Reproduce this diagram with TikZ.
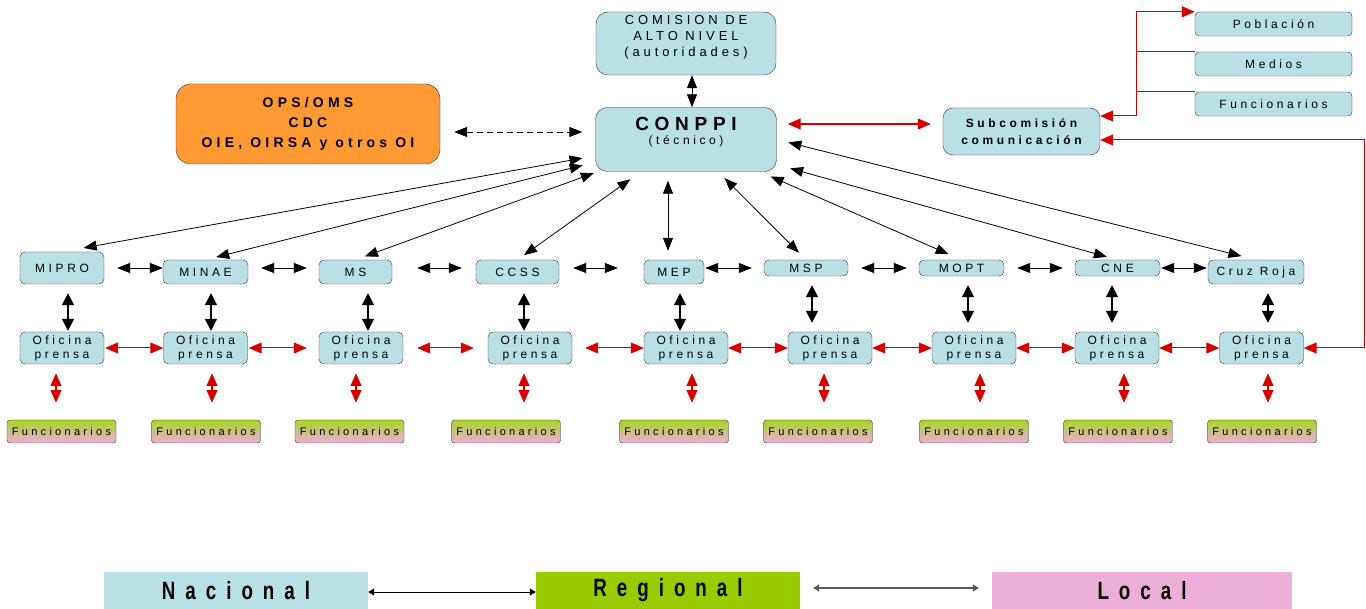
\documentclass[tikz,border=0pt]{standalone}
\usepackage{fontspec}
\setmainfont{Liberation Sans}[LetterSpace=30]
\usepackage{xcolor}
\usepackage{tikz}
\usetikzlibrary{arrows.meta,positioning}

\definecolor{celeste}{RGB}{185,224,229}
\definecolor{naranja}{RGB}{255,153,51}
\definecolor{verde}{RGB}{153,204,0}
\definecolor{rosa}{RGB}{238,174,218}
\definecolor{rojo}{RGB}{214,0,0}

\begin{document}
\begin{tikzpicture}[x=1pt,y=-1pt]
        \tikzset{box/.style={draw=black!80, fill=celeste, rounded corners=5pt, inner sep=0pt, align=center, font=\fontsize{12}{14}\selectfont}}
        \tikzset{orgbox/.style={draw=black!80, fill=naranja, rounded corners=15pt, inner sep=0pt, align=center, font=\bfseries\fontsize{14}{20}\selectfont}}
        \tikzset{funbox/.style={draw=black!80, top color=verde!85, bottom color=rosa, rounded corners=3pt, inner sep=0pt, minimum width=109pt, minimum height=23pt, font=\fontsize{11}{13}\selectfont}}
        \tikzset{legbox/.style={inner sep=0pt, minimum width=264pt, minimum height=37pt, font=\bfseries\fontsize{25}{27}\selectfont\addfontfeatures{FakeStretch=0.75,LetterSpace=40}}}
        \tikzset{blk/.style={<->, >={Triangle[length=13pt,width=10pt]}, line width=0.8pt}}
        \tikzset{blkv/.style={<->, >={Triangle[length=12pt,width=12pt]}, line width=1.6pt}}
        \tikzset{rojoarr/.style={<->, >={Triangle[length=13pt,width=11pt]}, color=rojo, line width=1pt}}
        \tikzset{rojoln/.style={color=rojo, line width=1pt}}
        \tikzset{leg/.style={<->, >={Triangle[length=6pt,width=7pt]}, line width=1pt}}

        \useasboundingbox (0,0) rectangle (1366,609);

        % top level
        \node [box, rounded corners=12pt, minimum width=180pt, minimum height=63pt, text depth=16pt, font=\fontsize{13}{16}\selectfont] (comision) at (686,43.5) {COMISION DE\\ALTO NIVEL\\(autoridades)};
        \node [box, rounded corners=12pt, minimum width=181pt, minimum height=64pt, text depth=17pt] (conppi) at (686,139.5) {{\bfseries\fontsize{19}{19}\selectfont CONPPI}\\[0pt](técnico)};
        \node [orgbox, minimum width=264pt, minimum height=80pt] (ops) at (308,124) {OPS/OMS\\CDC\\OIE, OIRSA y otros OI};
        \node [box, rounded corners=10pt, minimum width=157pt, minimum height=47pt, font=\bfseries\fontsize{12}{17}\selectfont] (sub) at (1021.5,131.5) {Subcomisión\\comunicación};
        \node [box, rounded corners=4pt, minimum width=157pt, minimum height=24pt, font=\fontsize{12}{13}\selectfont] (pob) at (1273.5,24) {Población};
        \node [box, rounded corners=4pt, minimum width=157pt, minimum height=24pt, font=\fontsize{12}{13}\selectfont] (med) at (1273.5,64) {Medios};
        \node [box, rounded corners=4pt, minimum width=157pt, minimum height=24pt, font=\fontsize{12}{13}\selectfont] (fun) at (1273.5,104) {Funcionarios};

        % institutions
        \foreach \name/\lbl/\xx/\yy/\w/\h in {mipro/MIPRO/62/268/84/32, minae/MINAE/205.5/272/85/24, ms/MS/355.5/272/73/24, ccss/CCSS/517.5/272/83/24, mep/MEP/674/272/60/24, msp/MSP/806/268/84/16, mopt/MOPT/961.5/268/85/16, cne/CNE/1117.5/268/85/16, cruz/Cruz Roja/1256/272/96/24}
            \node [box, minimum width=\w pt, minimum height=\h pt] (\name) at (\xx,\yy) {\lbl};
        \foreach \i/\xx in {1/62, 2/205.5, 3/361, 4/530, 5/686, 6/830, 7/974, 8/1117, 9/1261.5}
            \node [box, minimum width=84pt, minimum height=32pt] (of\i) at (\xx,348) {Oficina\\prensa};
        \foreach \i/\xx in {1/61.5, 2/206, 3/349.5, 4/506, 5/674, 6/818, 7/974, 8/1118, 9/1262}
            \node [funbox] (fu\i) at (\xx,431.5) {Funcionarios};

        % legend
        \node [legbox, fill=celeste] (nac) at (236,590.5) {Nacional};
        \node [legbox, fill=verde] (reg) at (668,590.5) {Regional};
        \node [legbox, fill=rosa, minimum width=300pt] (loc) at (1142,590.5) {Local};

        % connectors
        \draw [blk] ([xshift=6pt]comision.south) -- ([xshift=6pt]comision.south |- conppi.north);
        \draw [blk, dash pattern=on 6pt off 4pt, shorten <=14pt, shorten >=13pt] ([yshift=-8pt]ops.east) -- ([yshift=-8pt]ops.east -| conppi.west);
        \draw [rojoarr, line width=1.2pt, shorten <=11pt, shorten >=12pt] ([yshift=15.5pt]conppi.east) -- ([yshift=15.5pt]conppi.east -| sub.west);

        \foreach \m/\a/\b in {mipro/22/13, minae/11/13, ms/10/4, ccss/8/13, msp/10/9, mopt/14/12, cne/11/14}
            \draw [blk, shorten <=\a pt, shorten >=\b pt] (\m.north) -- (conppi);
        \draw [blk, shorten <=15pt, shorten >=12pt] (cruz.north) -- (conppi.east);
        \draw [blk, shorten <=9pt, shorten >=9pt] ([xshift=-6pt]mep.north) -- ([xshift=-6pt]mep.north |- conppi.south);

        \coordinate (row) at (0,268);
        \foreach \a/\b/\l/\r in {mipro/minae/13/0, minae/ms/13/12, ms/ccss/25/14, ccss/mep/14/26, mep/msp/1/12, msp/mopt/13/12, mopt/cne/13/12, cne/cruz/1/1}
            \draw [blk, shorten <=\l pt, shorten >=\r pt] (\a.east |- row) -- (\b.west |- row);

        \foreach \m/\i/\s/\e in {mipro/1/6/1, minae/2/5.5/1, ms/3/12.5/1, ccss/4/6.5/1, mep/5/6/1, msp/6/6/9, mopt/7/6.5/9, cne/8/-5.5/9, cruz/9/12/9}
            \draw [blkv, shorten <=9pt, shorten >=\e pt] ([xshift=\s pt]\m.south) -- ([xshift=\s pt]\m.south |- of\i.north);

        \foreach \a/\b/\l/\r in {1/2/1/0, 2/3/1/12, 3/4/14/14, 4/5/13/0, 5/6/0/0, 6/7/0/0, 7/8/0/0, 8/9/0/0}
            \draw [rojoarr, shorten <=\l pt, shorten >=\r pt] (of\a.east) -- (of\b.west);

        \foreach \i/\s in {1/-6, 2/6.5, 3/-5, 4/-6, 5/6, 6/-6, 7/6, 8/7, 9/6.5}
            \draw [rojoarr, line width=1.4pt, shorten <=9pt, shorten >=17pt] ([xshift=\s pt]of\i.south) -- ([xshift=\s pt]of\i.south |- fu\i.north);

        % red links of the subcommission
        \coordinate (hub) at (1136,116);
        \coordinate (rc) at (1364,140);
        \draw [rojoarr] (pob.north west) -| (hub) -- (hub -| sub.east);
        \draw [rojoln] (med.north west) -- (med.north west -| hub);
        \draw [rojoln] (fun.north west) -- (fun.north west -| hub);
        \draw [rojoarr] (of9.east) -| (rc) -- (rc -| sub.east);

        \coordinate (legA) at (0,592);
        \coordinate (legB) at (0,588);
        \draw [leg] (nac.east |- legA) -- (reg.west |- legA);
        \draw [leg, draw=black!65, line width=1.6pt, shorten <=13pt, shorten >=13pt] (reg.east |- legB) -- (loc.west |- legB);
\end{tikzpicture}
\end{document}
